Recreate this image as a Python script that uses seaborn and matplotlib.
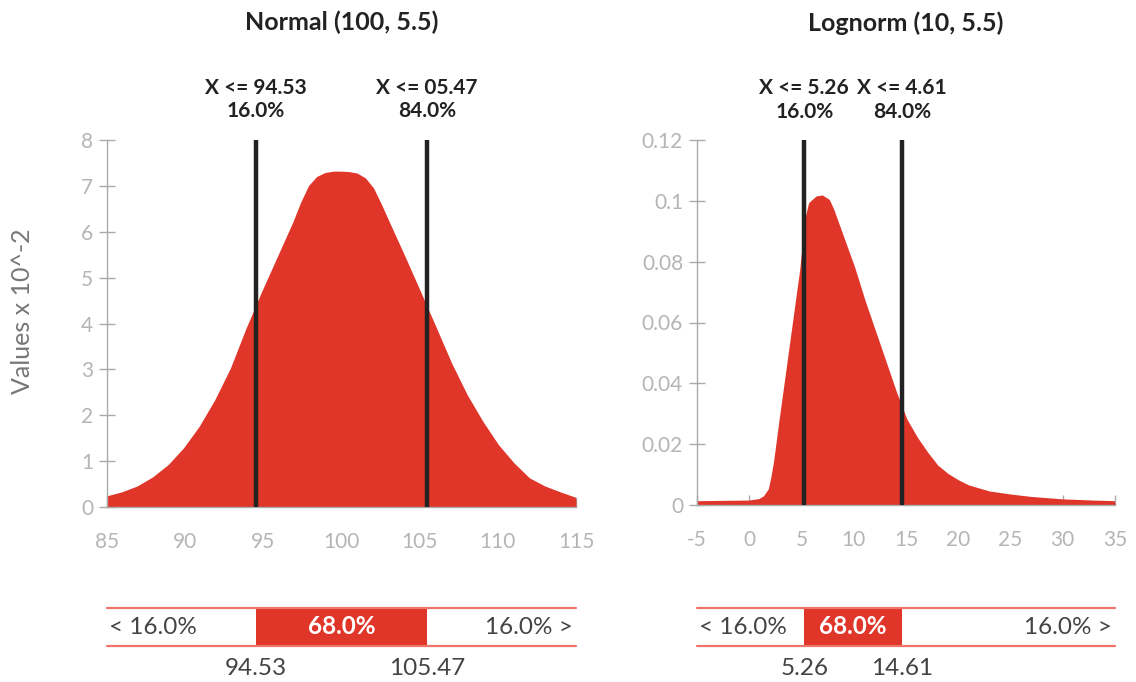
import numpy as np
import pandas as pd
import matplotlib
matplotlib.use("Agg")
import matplotlib.pyplot as plt
import matplotlib.transforms as mtransforms
import seaborn as sns

# ========= DATA ===================================
normal_x = [85, 86, 87, 88, 89, 90, 91, 92, 93, 94, 95, 96, 97, 97.5, 98, 98.5,
            99, 99.5, 100, 100.5, 101, 101.5, 102, 102.5, 103, 104, 105, 106,
            107, 108, 109, 110, 111, 112, 113, 114, 115]
normal_y = [0.20, 0.29, 0.42, 0.62, 0.89, 1.26, 1.73, 2.31, 3.00, 3.87,
            4.67, 5.43, 6.19, 6.62, 6.98, 7.17, 7.25, 7.28, 7.28, 7.27, 7.24,
            7.14, 6.93, 6.58, 6.20, 5.45, 4.68, 3.90, 3.11, 2.42, 1.84, 1.33,
            0.93, 0.60, 0.42, 0.29, 0.17]

lognorm_x = [-5, 0, 1, 1.5, 2, 2.25, 2.5, 3, 4, 5, 5.5, 5.85, 6.5, 7, 7.6, 8,
             9, 10, 11, 12, 13, 14, 15, 16, 17, 18, 19, 20, 21, 22, 23, 25,
             27, 30, 33, 35]
lognorm_y = [0.0008, 0.001, 0.0015, 0.0025, 0.005, 0.009, 0.014, 0.027, 0.052,
             0.077, 0.094, 0.099, 0.101, 0.1013, 0.1, 0.097, 0.0875, 0.078,
             0.067, 0.057, 0.047, 0.037, 0.028, 0.022, 0.017, 0.0126, 0.0098,
             0.0077, 0.006, 0.005, 0.004, 0.003, 0.0022, 0.0014, 0.001, 0.0008]

titles = ["Normal (100, 5.5)", "Lognorm (10, 5.5)"]
cut_values = [[94.53, 105.47], [5.26, 14.61]]
cut_labels = [["X <= 94.53", "X <= 05.47"], ["X <= 5.26", "X <= 4.61"]]
cut_pcts = ["16.0%", "84.0%"]
band_pcts = ["16.0%", "68.0%", "16.0%"]
band_labels = [["94.53", "105.47"], ["5.26", "14.61"]]

# ========= STYLE ==========
RED = "#e0362a"
SALMON = "#f07468"
DARK = "#222222"
AX_GREY = "#aaaaaa"
TICK_GREY = "#b5b5b5"

sns.set_style("white")
plt.rcParams["font.family"] = ["Lato", "DejaVu Sans"]
plt.rcParams["axes.unicode_minus"] = False

W, H = 1136, 682
fig = plt.figure(figsize=(W / 100, H / 100), dpi=100)

def frame(x0, y_top, x1, y_bot):
    return [x0 / W, 1 - y_bot / H, (x1 - x0) / W, (y_bot - y_top) / H]

main_axes = [fig.add_axes(frame(107, 140, 576, 507)),
             fig.add_axes(frame(697, 140, 1115, 505))]
band_axes = [fig.add_axes(frame(107, 608, 576, 646)),
             fig.add_axes(frame(697, 608, 1115, 646))]

panels = [
    dict(x=normal_x, y=normal_y, xlim=(85, 115), ylim=(0, 8),
         xticks=range(85, 116, 5), yticks=range(0, 9)),
    dict(x=lognorm_x, y=lognorm_y, xlim=(-5, 35), ylim=(0, 0.12),
         xticks=range(-5, 36, 5), yticks=[0, 0.02, 0.04, 0.06, 0.08, 0.1, 0.12]),
]

for i, (ax, p) in enumerate(zip(main_axes, panels)):
    df = pd.DataFrame({"x": p["x"], "y": p["y"]})
    ax.fill_between(df["x"], 0, df["y"], color=RED, lw=0)
    sns.lineplot(data=df, x="x", y="y", ax=ax, color=RED, lw=2,
                 solid_joinstyle="round", solid_capstyle="round")
    ax.vlines(cut_values[i], 0, p["ylim"][1], color=DARK, lw=3.2, zorder=5)

    ax.set_xlim(*p["xlim"])
    ax.set_ylim(*p["ylim"])
    ax.set_xticks(list(p["xticks"]))
    ax.set_yticks(list(p["yticks"]))
    ax.set_yticklabels([f"{v:g}" for v in p["yticks"]])
    ax.set_xlabel("")
    ax.set_ylabel("")
    for s in ["top", "right"]:
        ax.spines[s].set_visible(False)
    for s in ["left", "bottom"]:
        ax.spines[s].set_color(AX_GREY)
        ax.spines[s].set_linewidth(1.0)
    ax.tick_params(axis="x", direction="in", length=7, width=1, color=AX_GREY,
                   labelcolor=TICK_GREY, labelsize=15, pad=18)
    ax.tick_params(axis="y", direction="inout", length=12, width=1, color=AX_GREY,
                   labelcolor=TICK_GREY, labelsize=15, pad=4)
    ax.tick_params(left=True, bottom=True)

    ax.text(0.5, 1.32, titles[i], transform=ax.transAxes, ha="center", va="center",
            fontsize=18, fontweight="bold", color="#222222")
    trans = mtransforms.blended_transform_factory(ax.transData, ax.transAxes)
    for v, lab, pct in zip(cut_values[i], cut_labels[i], cut_pcts):
        ax.text(v, 1.11, f"{lab}\n{pct}", transform=trans, ha="center", va="center",
                fontsize=15, fontweight="bold", color="#222222", linespacing=1.22)

fig.text(23 / W, 1 - 311 / H, "Values x 10^-2", rotation=90, ha="center", va="center",
         fontsize=18, color="#777777")

# ========= bottom bands ==========
for i, (bx, p) in enumerate(zip(band_axes, panels)):
    lo, hi = cut_values[i]
    bx.set_xlim(*p["xlim"])
    bx.set_ylim(0, 1)
    bx.axis("off")
    bx.fill_between([lo, hi], 0, 1, color=RED, lw=0)
    bx.axhline(0, color=SALMON, lw=1.6, clip_on=False)
    bx.axhline(1, color=SALMON, lw=1.6, clip_on=False)
    bx.text(0.005, 0.5, f"< {band_pcts[0]}", transform=bx.transAxes, ha="left",
            va="center", fontsize=17.5, color="#444444")
    bx.text(0.993, 0.5, f"{band_pcts[2]} >", transform=bx.transAxes, ha="right",
            va="center", fontsize=17.5, color="#444444")
    trans = mtransforms.blended_transform_factory(bx.transData, bx.transAxes)
    bx.text((lo + hi) / 2, 0.5, band_pcts[1], transform=trans, ha="center",
            va="center", fontsize=17.5, fontweight="bold", color="white")
    for v, lab in zip(cut_values[i], band_labels[i]):
        bx.text(v, -0.6, lab, transform=trans, ha="center", va="center",
                fontsize=17.5, color="#444444")

fig.savefig("out.png", dpi=100, facecolor="white")
